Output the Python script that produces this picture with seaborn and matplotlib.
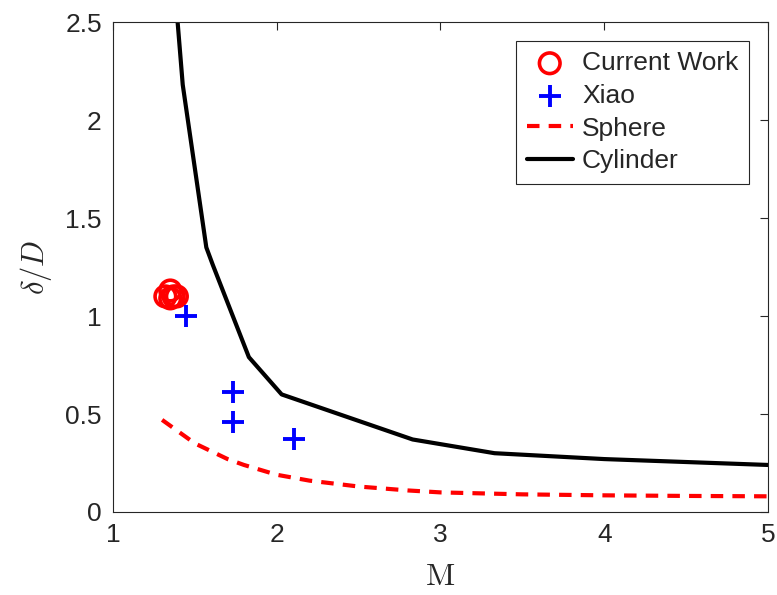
import matplotlib
matplotlib.use("Agg")
import matplotlib.pyplot as plt
import seaborn as sns
import numpy as np

# Present results (shock stand-off)
cw_mach = [1.32, 1.35, 1.37, 1.39, 1.35]
cw_delta = [1.10, 1.13, 1.10, 1.10, 1.09]

# Xiao data
xiao_mach = [1.446, 1.733, 1.733, 2.105]
xiao_delta = [1.00, 0.61, 0.46, 0.37]

# Sphere correlation
sphere_mach = [1.30, 1.40, 1.50, 1.60, 1.70, 1.80, 2.00, 2.20, 2.50, 2.80, 3.00, 3.50, 4.00, 4.50, 5.00]
sphere_delta = [0.47, 0.41, 0.35, 0.31, 0.27, 0.24, 0.19, 0.16, 0.13, 0.11, 0.10, 0.09, 0.085, 0.082, 0.08]

# Cylinder correlation
cyl_mach = [1.38, 1.426, 1.57, 1.61, 1.83, 2.03, 2.83, 3.33, 4.00, 5.00]
cyl_delta = [2.65, 2.18, 1.35, 1.26, 0.79, 0.60, 0.37, 0.30, 0.27, 0.24]

x_ticks = [1, 2, 3, 4, 5]
x_ticklabels = ["1", "2", "3", "4", "5"]
y_ticks = [0, 0.5, 1, 1.5, 2, 2.5]
y_ticklabels = ["0", "0.5", "1", "1.5", "2", "2.5"]

sns.set_style("white")
plt.rcParams["font.family"] = ["Liberation Sans", "DejaVu Sans"]
plt.rcParams["mathtext.fontset"] = "cm"

axis_gray = (0.15, 0.15, 0.15)

fig = plt.figure(figsize=(7.77, 5.95), dpi=100)
ax = fig.add_axes([0.1454, 0.1395, 0.8430, 0.8235])

sns.scatterplot(x=cw_mach, y=cw_delta, ax=ax, marker="o", s=220,
                facecolor="none", edgecolor="red", linewidth=2.6,
                label="Current Work", zorder=4)
sns.scatterplot(x=xiao_mach, y=xiao_delta, ax=ax, marker="+", s=260,
                color="blue", linewidth=2.8, label="Xiao", zorder=4)
sns.lineplot(x=sphere_mach, y=sphere_delta, ax=ax, color="red",
             linewidth=3, linestyle=(0, (3, 2.2)), sort=False,
             estimator=None, label="Sphere")
sns.lineplot(x=cyl_mach, y=cyl_delta, ax=ax, color="black",
             linewidth=3, sort=False, estimator=None, label="Cylinder")

ax.set_xlim(1, 5)
ax.set_ylim(0, 2.5)
ax.set_xticks(x_ticks)
ax.set_xticklabels(x_ticklabels)
ax.set_yticks(y_ticks)
ax.set_yticklabels(y_ticklabels)

ax.tick_params(axis="both", which="both", direction="in", length=6,
               width=0.8, colors=axis_gray, labelsize=19, pad=8,
               top=True, right=True)
for lbl in ax.get_xticklabels() + ax.get_yticklabels():
    lbl.set_color(axis_gray)
for sp in ax.spines.values():
    sp.set_visible(True)
    sp.set_color(axis_gray)
    sp.set_linewidth(0.8)

ax.set_xlabel(r"$\mathrm{M}$", fontsize=23, color=axis_gray, labelpad=11)
ax.set_ylabel(r"$\delta/D$", fontsize=22, color=axis_gray, labelpad=8)

leg = ax.legend(loc="upper right", bbox_to_anchor=(0.971, 0.962),
                fontsize=19, frameon=True, fancybox=False, shadow=False,
                framealpha=1, edgecolor=axis_gray, handlelength=1.75,
                handletextpad=0.35, borderpad=0.4, labelspacing=0.33,
                borderaxespad=0, markerscale=1.0)
leg.get_frame().set_linewidth(0.8)

fig.savefig("out.png", dpi=100)
